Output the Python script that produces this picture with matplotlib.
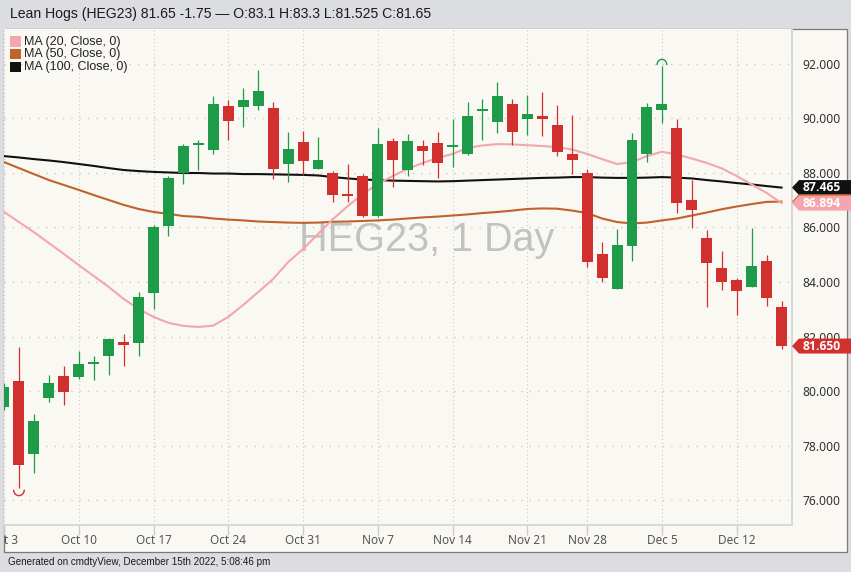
import matplotlib
matplotlib.use("Agg")
import matplotlib.pyplot as plt
from matplotlib.patches import Rectangle, Polygon, Arc
from matplotlib.transforms import Bbox, TransformedBbox, blended_transform_factory

# ---------------- data ----------------
dates = ["Oct 3", "Oct 4", "Oct 5", "Oct 6", "Oct 7",
         "Oct 10", "Oct 11", "Oct 12", "Oct 13", "Oct 14",
         "Oct 17", "Oct 18", "Oct 19", "Oct 20", "Oct 21",
         "Oct 24", "Oct 25", "Oct 26", "Oct 27", "Oct 28",
         "Oct 31", "Nov 1", "Nov 2", "Nov 3", "Nov 4",
         "Nov 7", "Nov 8", "Nov 9", "Nov 10", "Nov 11",
         "Nov 14", "Nov 15", "Nov 16", "Nov 17", "Nov 18",
         "Nov 21", "Nov 22", "Nov 23", "Nov 25",
         "Nov 28", "Nov 29", "Nov 30", "Dec 1", "Dec 2",
         "Dec 5", "Dec 6", "Dec 7", "Dec 8", "Dec 9",
         "Dec 12", "Dec 13", "Dec 14", "Dec 15"]

opens = [79.40, 80.35, 77.70, 79.75, 80.55, 80.50, 81.00, 81.30, 81.78, 81.77,
         83.60, 86.05, 88.00, 89.03, 88.85, 90.46, 90.43, 90.46, 90.37, 88.32,
         89.14, 88.16, 88.00, 87.20, 87.90, 86.42, 89.17, 88.11, 89.00, 89.11,
         88.94, 88.70, 90.29, 89.88, 90.52, 89.97, 90.09, 89.76, 88.70,
         88.00, 85.02, 83.73, 85.33, 88.70, 90.31, 89.64, 87.00, 85.63, 84.50,
         84.07, 83.83, 84.78, 83.10]
highs = [80.30, 81.60, 79.15, 80.60, 80.90, 81.45, 81.30, 81.95, 82.10, 83.65,
         86.10, 87.90, 89.05, 89.20, 90.83, 90.68, 91.13, 91.78, 90.62, 89.50,
         89.55, 89.33, 88.07, 88.33, 87.95, 89.64, 89.30, 89.43, 89.21, 89.49,
         89.97, 90.59, 90.70, 91.33, 90.70, 90.86, 90.96, 90.50, 90.13,
         88.13, 85.46, 85.94, 89.46, 90.58, 91.93, 89.98, 87.74, 85.91, 85.15,
         84.16, 85.99, 84.99, 83.30]
lows = [79.30, 76.45, 77.00, 79.60, 79.50, 80.45, 80.40, 80.60, 80.90, 81.30,
        83.00, 85.70, 87.60, 88.10, 88.70, 89.20, 89.70, 90.30, 87.78, 87.66,
        87.93, 88.15, 86.95, 86.95, 86.38, 86.40, 87.50, 87.89, 88.29, 87.83,
        88.23, 88.66, 89.21, 89.48, 89.03, 89.39, 89.36, 88.62, 87.96,
        84.56, 84.01, 83.73, 84.77, 88.39, 89.82, 86.52, 85.97, 83.09, 83.71,
        82.79, 83.83, 83.13, 81.525]
closes = [80.15, 77.30, 78.90, 80.30, 79.95, 81.00, 81.08, 81.90, 81.70, 83.45,
          86.00, 87.83, 89.00, 89.10, 90.53, 89.90, 90.68, 91.00, 88.15, 88.87,
          88.45, 88.48, 87.20, 87.15, 86.42, 89.06, 88.48, 89.17, 88.80, 88.38,
          89.00, 90.09, 90.36, 90.81, 89.52, 90.17, 89.97, 88.78, 88.48,
          84.75, 84.14, 85.36, 89.21, 90.43, 90.53, 86.91, 86.64, 84.69, 84.00,
          83.68, 84.59, 83.40, 81.65]

ma20 = [86.57, 86.20, 85.83, 85.43, 85.03, 84.62, 84.22, 83.82, 83.38, 83.01,
        82.72, 82.50, 82.39, 82.35, 82.40, 82.72, 83.16, 83.63, 84.11, 84.73,
        85.21, 85.76, 86.31, 86.79, 87.23, 87.60, 87.89, 88.15, 88.37, 88.55,
        88.70, 88.92, 89.01, 89.06, 89.05, 89.02, 88.99, 88.95, 88.86,
        88.70, 88.51, 88.33, 88.40, 88.62, 88.78, 88.68, 88.53, 88.37, 88.17,
        87.89, 87.58, 87.27, 86.894]
ma50 = [88.40, 88.18, 87.96, 87.74, 87.56, 87.38, 87.19, 87.01, 86.83, 86.68,
        86.57, 86.50, 86.42, 86.39, 86.33, 86.29, 86.26, 86.22, 86.20, 86.18,
        86.17, 86.18, 86.21, 86.22, 86.24, 86.26, 86.29, 86.33, 86.37, 86.40,
        86.44, 86.48, 86.53, 86.57, 86.62, 86.68, 86.70, 86.69, 86.62,
        86.53, 86.33, 86.20, 86.15, 86.18, 86.26, 86.33, 86.44, 86.55, 86.67,
        86.77, 86.86, 86.94, 86.95]
ma100 = [88.62, 88.57, 88.51, 88.46, 88.40, 88.33, 88.26, 88.18, 88.11, 88.07,
         88.04, 88.02, 88.00, 88.00, 87.98, 87.98, 87.96, 87.96, 87.95, 87.94,
         87.93, 87.91, 87.85, 87.80, 87.76, 87.74, 87.72, 87.71, 87.70, 87.69,
         87.70, 87.72, 87.74, 87.76, 87.78, 87.80, 87.82, 87.83, 87.85,
         87.85, 87.83, 87.82, 87.82, 87.83, 87.85, 87.83, 87.80, 87.74, 87.69,
         87.63, 87.58, 87.52, 87.465]

tick_labels = ["Oct 3", "Oct 10", "Oct 17", "Oct 24", "Oct 31", "Nov 7",
               "Nov 14", "Nov 21", "Nov 28", "Dec 5", "Dec 12"]
price_ticks = [76, 78, 80, 82, 84, 86, 88, 90, 92]

# ---------------- style ----------------
W, H = 851, 572
BG_OUT = "#DCDDE1"
BG_IN = "#FAF8F2"
GREEN = "#1E9B48"
RED = "#D1302F"
PINK = "#F4A6AE"
ORANGE = "#C2622B"
BLACK = "#111111"
SANS = ["Liberation Sans", "DejaVu Sans"]
AXF = ["Noto Sans", "DejaVu Sans"]
TAGF = ["Open Sans", "Noto Sans", "DejaVu Sans"]

def fx(p):
    return p / W

def fy(p):
    return 1 - p / H

fig = plt.figure(figsize=(W / 100, H / 100), dpi=100, facecolor=BG_OUT)

# chart panel
fig.patches.append(Rectangle((fx(4), fy(551.7)), fx(846.7) - fx(4), fy(29.3) - fy(551.7),
                             transform=fig.transFigure, facecolor=BG_IN,
                             edgecolor="#7A7A7A", lw=0.9, zorder=-1))

ax = fig.add_axes([fx(4), fy(525), fx(791.7) - fx(4), fy(29.3) - fy(525)])
ax.set_zorder(1)
ax.set_facecolor(BG_IN)
for s in ["top", "left"]:
    ax.spines[s].set_visible(False)
for s in ["right", "bottom"]:
    ax.spines[s].set_color("#D8D8D8")
    ax.spines[s].set_linewidth(1.4)

n = len(dates)
xs = list(range(n))
ax.set_xlim(0.1667, 52.68)
ax.set_ylim(75.083, 93.273)

tick_pos = [dates.index(t) for t in tick_labels]
ax.set_xticks(tick_pos)
ax.set_xticklabels([])
ax.tick_params(axis="x", length=7, color="#CCCCCC", width=1)

ax.set_yticks(price_ticks)
ax.set_yticklabels([f"{v:.3f}" for v in price_ticks])
ax.yaxis.tick_right()
ax.tick_params(axis="y", length=0, pad=7.5, labelsize=8.7, labelcolor="#333333")
for lbl in ax.get_yticklabels():
    lbl.set_fontfamily(AXF)

for t in tick_pos:
    ax.axvline(t, color="#C9C9C9", lw=0.8, ls=(0, (1, 2.5)), zorder=0.2)
for v in price_ticks:
    ax.axhline(v, color="#CACACA", lw=1.0, ls=(0, (1, 5)), zorder=0.2)

# watermark
ax.text((427 - 4) / (791.7 - 4), (525 - 240) / (525 - 29.3), "HEG23, 1 Day",
        transform=ax.transAxes, ha="center", va="center", fontsize=28.5,
        color="#C2C2C2", family=SANS, zorder=0.3)

# moving averages
ax.plot(xs, ma100, color=BLACK, lw=1.5, zorder=1)
ax.plot(xs, ma50, color=ORANGE, lw=1.5, zorder=1.1)
ax.plot(xs, ma20, color=PINK, lw=1.5, zorder=1.2)

# candles
bw = 0.733
for i in xs:
    o, h, l, c = opens[i], highs[i], lows[i], closes[i]
    col = GREEN if c >= o else RED
    ax.vlines(i, l, h, color=col, lw=0.9, zorder=2)
    bot = min(o, c)
    hgt = max(abs(c - o), 0.075)
    ax.add_patch(Rectangle((i - bw / 2, bot), bw, hgt, facecolor=col,
                           edgecolor="none", zorder=2.1))

# high / low markers
lo_i = lows.index(min(lows))
hi_i = highs.index(max(highs))
ax.add_patch(Arc((lo_i, min(lows) - 0.07), 0.72, 0.44, theta1=180, theta2=360,
                 color=RED, lw=1.0, zorder=2.2))
ax.add_patch(Arc((hi_i, max(highs) + 0.03), 0.66, 0.42, theta1=0, theta2=180,
                 color=GREEN, lw=1.0, zorder=2.2))

# x tick labels (clipped by panel)
clipbox = TransformedBbox(Bbox.from_extents(fx(4.5), 0, fx(846.7), 1), fig.transFigure)
btrans = blended_transform_factory(ax.transData, fig.transFigure)
for p, lab in zip(tick_pos, tick_labels):
    t = ax.text(p, fy(540.7), lab, transform=btrans, ha="center", va="center",
                fontsize=8.5, color="#555555", family=AXF)
    t.set_clip_on(True)
    t.set_clip_box(clipbox)

# price tags on the right
def tag(k, value, color, text, tcolor="white"):
    yd = ax.transData.transform((0, value))[1]
    yp = H - yd
    pts = [(792, yp), (799, yp - 7.5), (851, yp - 7.5), (851, yp + 7.5), (799, yp + 7.5)]
    fig.patches.append(Polygon([(fx(a), fy(b)) for a, b in pts], closed=True,
                               transform=fig.transFigure, facecolor=color,
                               edgecolor="none", zorder=5 + 2 * k))
    fig.text(fx(822), fy(yp), text, ha="center", va="center", fontsize=8.7,
             fontweight="bold", color=tcolor, family=TAGF, zorder=6 + 2 * k)

tag(0, ma100[-1], BLACK, f"{ma100[-1]:.3f}")
tag(1, ma50[-1], ORANGE, f"{ma50[-1]:.3f}")
tag(2, ma20[-1], PINK, f"{ma20[-1]:.3f}")
tag(3, closes[-1], RED, f"{closes[-1]:.3f}")

# legend
leg = [("MA (20, Close, 0)", PINK), ("MA (50, Close, 0)", ORANGE), ("MA (100, Close, 0)", BLACK)]
for k, (lab, col) in enumerate(leg):
    yc = 41.5 + 12.7 * k
    fig.patches.append(Rectangle((fx(10), fy(yc + 5)), fx(10.5), 10 / H,
                                 transform=fig.transFigure, facecolor=col,
                                 edgecolor="none", zorder=5))
    fig.text(fx(24), fy(yc), lab, ha="left", va="center", fontsize=9,
             color="#222222", family=SANS, zorder=6)

# header / footer
chg = closes[-1] - closes[-2]
hdr = (f"Lean Hogs (HEG23) {closes[-1]:.2f} {chg:.2f} \u2014 O:{opens[-1]:g} "
       f"H:{highs[-1]:g} L:{lows[-1]:g} C:{closes[-1]:.2f}")
fig.text(fx(10), fy(14), hdr, ha="left", va="center", fontsize=10.1,
         color="#1A1A1A", family=SANS)
fig.text(fx(8), fy(561.7), "Generated on cmdtyView, December 15th 2022, 5:08:46 pm",
         ha="left", va="center", fontsize=7.1, color="#1A1A1A", family=SANS)

fig.savefig("out.png", dpi=100, facecolor=BG_OUT)
